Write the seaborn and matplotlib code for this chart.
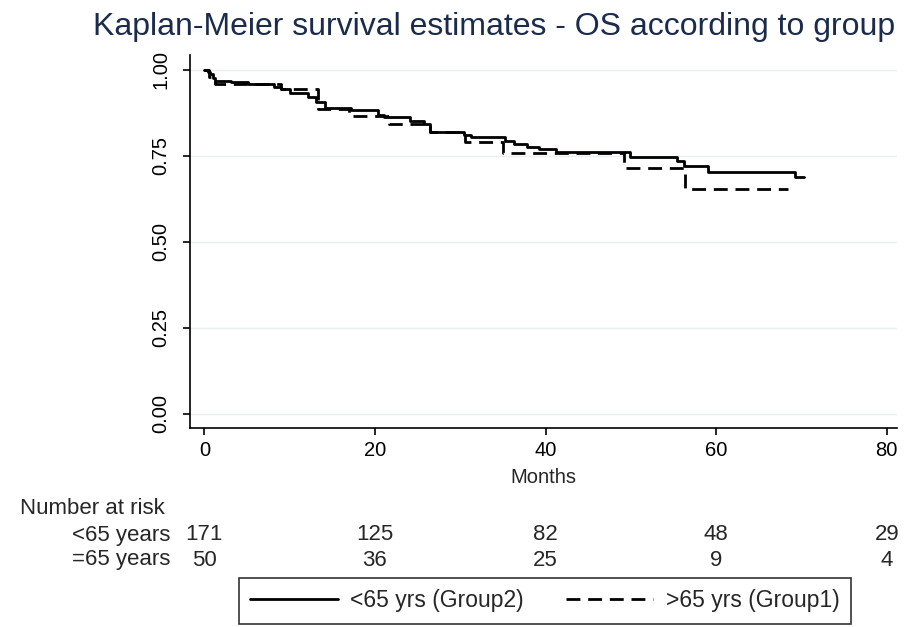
import numpy as np
import pandas as pd
import matplotlib
matplotlib.use("Agg")
import matplotlib.pyplot as plt
import matplotlib.transforms as mtransforms
from matplotlib.lines import Line2D
import seaborn as sns

# ---- data ----
group2_label = "<65 yrs (Group2)"
group1_label = ">65 yrs (Group1)"

g2_time = [0, 0.4, 0.7, 1.0, 1.3, 3.1, 5.1, 8.2, 9.0, 10.1, 12.1, 13.1, 14.1,
           17.2, 20.4, 21.1, 24.1, 25.7, 26.5, 30.4, 31.3, 35.2, 36.3, 37.8,
           39.2, 41.2, 49.9, 55.4, 56.2, 59.1, 69.3, 70.3]
g2_surv = [1.0, 0.994, 0.988, 0.976, 0.968, 0.964, 0.959, 0.951, 0.946, 0.932,
           0.922, 0.906, 0.890, 0.884, 0.868, 0.864, 0.852, 0.844, 0.820, 0.810,
           0.805, 0.795, 0.786, 0.777, 0.771, 0.761, 0.747, 0.735, 0.722, 0.703,
           0.688, 0.688]

g1_time = [0, 0.5, 1.2, 9.0, 13.3, 17.0, 21.6, 26.5, 30.5, 35.0, 49.2, 56.3, 68.4]
g1_surv = [1.0, 0.98, 0.96, 0.944, 0.886, 0.865, 0.842, 0.820, 0.790, 0.759,
           0.714, 0.654, 0.654]

risk_times = [0, 20, 40, 60, 80]
risk_g2 = [171, 125, 82, 48, 29]
risk_g1 = [50, 36, 25, 9, 4]
risk_row_labels = ["<65 years", "=65 years"]

x_ticks = [0, 20, 40, 60, 80]
y_ticks = [0.00, 0.25, 0.50, 0.75, 1.00]

title = "Kaplan-Meier survival estimates - OS according to group"

# ---- style ----
sns.set_style("white")
plt.rcParams["font.family"] = ["Liberation Sans", "DejaVu Sans"]

df = pd.concat([
    pd.DataFrame({"time": g2_time, "surv": g2_surv, "group": group2_label}),
    pd.DataFrame({"time": g1_time, "surv": g1_surv, "group": group1_label}),
], ignore_index=True)

W, H = 923, 627
fig = plt.figure(figsize=(W / 100, H / 100), dpi=100)
ax = fig.add_axes([190 / W, 1 - 428 / H, (897 - 190) / W, (428 - 55) / H])

lw = 2.0
dash_pat = (5.0, 2.8)
sns.lineplot(data=df, x="time", y="surv", style="group",
             dashes={group2_label: "", group1_label: dash_pat},
             color="black", linewidth=lw, drawstyle="steps-post",
             estimator=None, sort=False, legend=False, ax=ax)

ax.set_xlim(-1.68, 81.2)
ax.set_ylim(-0.0407, 1.0436)
ax.set_xticks(x_ticks)
ax.set_xticklabels([str(t) for t in x_ticks], fontsize=14.5)
ax.set_yticks(y_ticks)
ax.set_yticklabels([f"{v:.2f}" for v in y_ticks], fontsize=14.5,
                   rotation=90, va="center")
ax.tick_params(axis="both", direction="out", length=5, width=1.2,
               color="black", labelcolor="black", pad=4)
ax.tick_params(axis="y", pad=9)
ax.tick_params(axis="both", which="both", bottom=True, left=True)

for s in ["top", "right"]:
    ax.spines[s].set_visible(False)
for s in ["left", "bottom"]:
    ax.spines[s].set_color("black")
    ax.spines[s].set_linewidth(1.2)

ax.yaxis.grid(True, color="#e8f0f2", linewidth=1.0)
ax.xaxis.grid(False)
ax.set_axisbelow(True)

ax.set_xlabel("Months", fontsize=14.5, labelpad=6)
ax.set_ylabel("")

fig.text(494 / W, 1 - 27 / H, title, ha="center", va="center",
         fontsize=23, color="#1a2b4c")

# ---- number at risk table ----
trans = mtransforms.blended_transform_factory(ax.transData, fig.transFigure)
tfs = 16
fig.text(20 / W, 1 - 509 / H, "Number at risk", ha="left", va="center", fontsize=tfs)
row_y = [1 - 535 / H, 1 - 560 / H]
for lab, yy in zip(risk_row_labels, row_y):
    fig.text(170 / W, yy, lab, ha="right", va="center", fontsize=tfs)
for t, a, b in zip(risk_times, risk_g2, risk_g1):
    ax.text(t, row_y[0], str(a), transform=trans, ha="center", va="center", fontsize=tfs)
    ax.text(t, row_y[1], str(b), transform=trans, ha="center", va="center", fontsize=tfs)

# ---- legend ----
lfs = 16.5
handles = [Line2D([], [], color="black", linewidth=lw),
           Line2D([], [], color="black", linewidth=lw, dashes=dash_pat)]
leg = fig.legend(handles, [group2_label, group1_label], loc="center",
                 bbox_to_anchor=(545 / W, 1 - 601 / H), ncol=2,
                 frameon=True, fancybox=False, edgecolor="black",
                 fontsize=lfs, handlelength=3.8, handletextpad=0.55,
                 columnspacing=1.85, borderpad=0.5, borderaxespad=0)
leg.get_frame().set_linewidth(1.2)

fig.savefig("out.png", dpi=100, facecolor="white")
